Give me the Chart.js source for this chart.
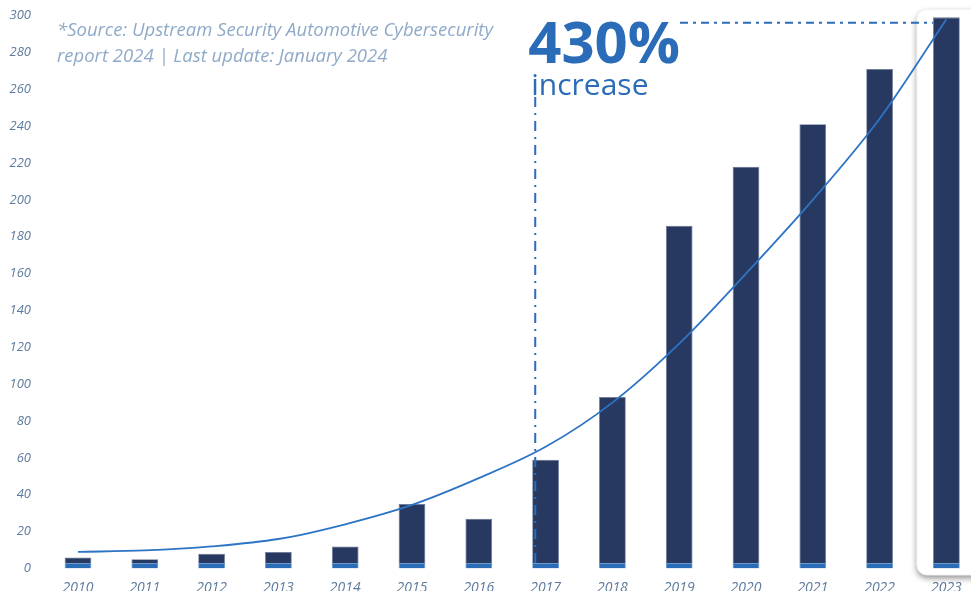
<!DOCTYPE html>
<html>
<head>
<meta charset="utf-8">
<script src="https://cdn.jsdelivr.net/npm/chart.js@4.4.1/dist/chart.umd.min.js"></script>
<style>
  html, body { margin: 0; padding: 0; background: #ffffff; overflow: hidden; }
  #wrap { position: absolute; left: 0; top: 0; width: 1000px; height: 600px; }
</style>
</head>
<body>
<div id="wrap"><canvas id="c" width="1000" height="600"></canvas></div>
<script>
// ---- data ----
const years = ['2010','2011','2012','2013','2014','2015','2016','2017','2018','2019','2020','2021','2022','2023'];
const baseStripe = [3, 3, 3, 3, 3, 3, 3, 3, 3, 3, 3, 3, 3, 3];
const upperPart  = [3, 2, 5, 6, 9, 32, 24, 56, 90, 183, 215, 238, 268, 296];
const trendLine  = [9, 9.8, 12, 16, 24, 34.5, 49, 66, 90, 122, 160, 200, 244, 298];
const yTicks = { min: 0, max: 300, step: 20 };
const headline = '430%';
const headlineSub = 'increase';
const sourceLines = ['*Source: Upstream Security Automotive Cybersecurity', 'report 2024 | Last update: January 2024'];
const markerIndex = 7;     // 2017
const highlightIndex = 13; // 2023
const increaseLevel = 296;

const NAVY = '#283961';
const STRIPE = '#2b6cb6';
const ACCENT = '#2a6cb7';

const annotPlugin = {
  id: 'annot',
  beforeDatasetsDraw(chart) {
    const { ctx, scales: { x, y } } = chart;
    const cx = x.getPixelForValue(highlightIndex);
    const left = cx - 29.5, top = y.getPixelForValue(300) - 6, bottom = y.getPixelForValue(0) + 6.5;
    const right = chart.width + 20, r = 10;
    ctx.save();
    ctx.shadowColor = 'rgba(0,0,0,0.45)';
    ctx.shadowBlur = 6;
    ctx.shadowOffsetX = 0;
    ctx.shadowOffsetY = 3;
    ctx.fillStyle = '#ffffff';
    ctx.beginPath();
    ctx.moveTo(left + r, top);
    ctx.lineTo(right, top);
    ctx.lineTo(right, bottom);
    ctx.lineTo(left + r, bottom);
    ctx.arcTo(left, bottom, left, bottom - r, r);
    ctx.lineTo(left, top + r);
    ctx.arcTo(left, top, left + r, top, r);
    ctx.closePath();
    ctx.fill();
    ctx.shadowColor = 'transparent';
    ctx.strokeStyle = '#f3f3f3';
    ctx.lineWidth = 1;
    ctx.stroke();
    ctx.restore();
  },
  afterDatasetsDraw(chart) {
    const { ctx, scales: { x, y } } = chart;
    const meta = chart.getDatasetMeta(1);
    const bar = meta.data[markerIndex];
    const vx = bar.x - bar.width / 2 + 3;
    const hy = y.getPixelForValue(increaseLevel);
    const hlBar = meta.data[highlightIndex];
    ctx.save();
    ctx.fillStyle = ACCENT;
    ctx.textBaseline = 'alphabetic';
    ctx.textAlign = 'left';
    ctx.font = 'bold 58px "Open Sans"';
    const tx = vx - 7;
    ctx.fillText(headline, tx, 63);
    const tw = ctx.measureText(headline).width;
    ctx.font = '30px "Open Sans"';
    ctx.fillText(headlineSub, vx - 4, 95);
    ctx.strokeStyle = ACCENT;
    ctx.lineWidth = 2;
    ctx.setLineDash([8, 5, 3, 5]);
    ctx.beginPath();
    ctx.moveTo(tx + tw, hy);
    ctx.lineTo(hlBar.x - hlBar.width / 2, hy);
    ctx.stroke();
    ctx.setLineDash([10, 6, 2, 6]);
    ctx.beginPath();
    ctx.moveTo(vx, 97);
    ctx.lineTo(vx, y.getPixelForValue(0));
    ctx.stroke();
    ctx.setLineDash([]);
    ctx.fillStyle = '#8faac8';
    ctx.font = 'italic 18.5px "Open Sans"';
    ctx.fillText(sourceLines[0], 57, 36);
    ctx.fillText(sourceLines[1], 57, 62);
    ctx.restore();
  }
};

new Chart(document.getElementById('c'), {
  data: {
    labels: years,
    datasets: [
      {
        type: 'line', label: 'Trend', data: trendLine, order: 0, stack: 'trend',
        borderColor: '#2e74c4', borderWidth: 1.8, pointRadius: 0,
        cubicInterpolationMode: 'monotone', fill: false
      },
      {
        type: 'bar', label: 'Base', data: baseStripe, order: 1, stack: 'bars',
        backgroundColor: STRIPE, borderColor: '#5a8fcc', borderWidth: 0.8,
        barPercentage: 0.4, categoryPercentage: 1
      },
      {
        type: 'bar', label: 'Attacks', data: upperPart, order: 2, stack: 'bars',
        backgroundColor: NAVY, borderColor: '#6a7895', borderWidth: 0.8,
        barPercentage: 0.4, categoryPercentage: 1
      }
    ]
  },
  options: {
    responsive: false,
    animation: false,
    devicePixelRatio: 1,
    layout: { padding: { left: 0, top: 15.5, right: 20.2, bottom: 0 } },
    plugins: { legend: { display: false }, tooltip: { enabled: false } },
    scales: {
      x: {
        stacked: true,
        offset: true,
        grid: { display: false, drawTicks: false },
        border: { display: false },
        ticks: { color: '#5e7b9d', font: { family: 'Open Sans', size: 14, style: 'italic' }, padding: 11, maxRotation: 0, autoSkip: false },
        afterFit(s) { s.height = 31.5; }
      },
      y: {
        stacked: true,
        min: yTicks.min, max: yTicks.max,
        grid: { display: false, drawTicks: false },
        border: { display: false },
        ticks: { stepSize: yTicks.step, color: '#5e7b9d', font: { family: 'Open Sans', size: 13, style: 'italic' }, padding: 13.6 },
        afterFit(s) { s.width = 44.6; s.paddingTop = 0; s.paddingBottom = 0; }
      }
    }
  },
  plugins: [annotPlugin]
});
</script>
</body>
</html>
